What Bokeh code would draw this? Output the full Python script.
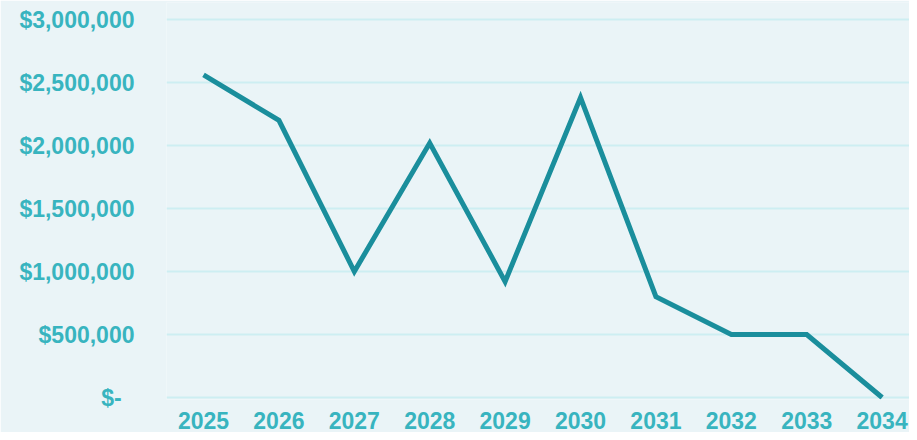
from bokeh.plotting import figure
from bokeh.models import Range1d, FixedTicker, ColumnDataSource
from bokeh.embed import file_html
from bokeh.resources import INLINE

years = [2025, 2026, 2027, 2028, 2029, 2030, 2031, 2032, 2033, 2034]
values = [2560000, 2200000, 1000000, 2020000, 920000, 2380000, 800000, 500000, 500000, 0]
y_ticks = [0, 500000, 1000000, 1500000, 2000000, 2500000, 3000000]
y_tick_labels = ["$-\u00a0\u00a0", "$500,000", "$1,000,000", "$1,500,000",
                 "$2,000,000", "$2,500,000", "$3,000,000"]

BG = "#EAF4F7"
LABEL = "#38B4BF"
LINE = "#1A8E9C"
GRID = "#CDEEF2"

p = figure(width=909, height=432, output_backend="svg", toolbar_location=None,
           x_range=Range1d(2024.509, 2034.363), y_range=Range1d(-15873, 3134921),
           min_border_left=166, min_border_right=0, min_border_top=2, min_border_bottom=33)
p.frame_width = 743
p.frame_height = 397

p.background_fill_color = BG
p.border_fill_color = BG
p.outline_line_color = None

src = ColumnDataSource(dict(x=years, y=values))
p.line("x", "y", source=src, line_color=LINE, line_width=5, line_join="miter")

p.xgrid.grid_line_color = None
p.ygrid.grid_line_color = GRID
p.ygrid.grid_line_width = 2

p.yaxis.ticker = FixedTicker(ticks=y_ticks)
p.yaxis.major_label_overrides = {t: l for t, l in zip(y_ticks, y_tick_labels)}
p.xaxis.ticker = FixedTicker(ticks=years)
p.xaxis.major_label_overrides = {y: str(y) for y in years}

for ax in (p.xaxis[0], p.yaxis[0]):
    ax.axis_line_color = None
    ax.major_tick_line_color = None
    ax.minor_tick_line_color = None
    ax.major_label_text_color = LABEL
    ax.major_label_text_font = "Liberation Sans"
    ax.major_label_text_font_style = "bold"

p.yaxis.major_label_text_font_size = "23px"
p.yaxis.major_label_standoff = 26
p.xaxis.major_label_text_font_size = "23px"
p.xaxis.major_label_standoff = 6

open("out.html", "w").write(file_html(p, INLINE))
